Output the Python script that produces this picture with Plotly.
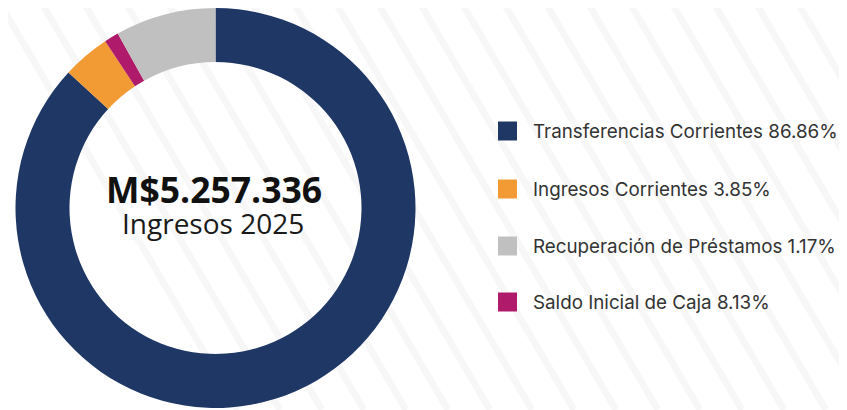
import plotly.graph_objects as go

# Data
categories = ["Transferencias Corrientes", "Ingresos Corrientes",
              "Recuperación de Préstamos", "Saldo Inicial de Caja"]
percentages = [86.86, 3.85, 1.17, 8.13]
legend_colors = ["#1e3765", "#f29b34", "#c0c0c0", "#b01a6b"]
# colours as painted on the ring in the reference
slice_colors = ["#1e3765", "#f29b34", "#b01a6b", "#c0c0c0"]
total_label = "M$5.257.336"
sub_label = "Ingresos 2025"

# the page body has an 8px margin, so figure coords = page coords - 8
OFF = 8
W, H = 839, 402
cx, cy, R = 215.5 - OFF, 208 - OFF, 200


def px(x):
    return (x - OFF) / W


def py(y):
    return 1 - (y - OFF) / H


fig = go.Figure()
fig.add_trace(go.Pie(
    labels=categories, values=percentages,
    marker=dict(colors=slice_colors, line=dict(width=0)),
    hole=0.73, sort=False, direction="clockwise", rotation=0,
    textinfo="none", hoverinfo="label+percent", showlegend=False,
    domain=dict(x=[(cx - R) / W, (cx + R) / W],
                y=[max(0, (H - cy - R) / H), min(1, (H - cy + R) / H)]),
))

annotations = [
    dict(text=f"<b>{total_label}</b>", x=px(214), y=py(189), xref="paper", yref="paper",
         showarrow=False, font=dict(family="Open Sans", size=35.5, color="#111111"),
         xanchor="center", yanchor="middle"),
    dict(text=sub_label, x=px(212.5), y=py(222.5), xref="paper", yref="paper",
         showarrow=False, font=dict(family="Open Sans", size=28, color="#1a1a1a"),
         xanchor="center", yanchor="middle"),
]
shapes = []
# faint diagonal background stripes
for k in range(-6, 18):
    x0 = 250 + k * 42
    shapes.append(dict(type="line", xref="paper", yref="paper", layer="below",
                       x0=px(x0), y0=py(0), x1=px(x0 + 240), y1=py(410),
                       line=dict(color="rgba(0,0,0,0.03)", width=7)))

row_y = [131, 189, 246, 302]
for name, pct, col, yy in zip(categories, percentages, legend_colors, row_y):
    shapes.append(dict(type="rect", xref="paper", yref="paper",
                       x0=px(498), x1=px(517), y0=py(yy + 9.5), y1=py(yy - 9.5),
                       fillcolor=col, line=dict(width=0)))
    annotations.append(dict(text=f"{name} {pct:.2f}%", x=px(531), y=py(yy),
                            xref="paper", yref="paper", showarrow=False,
                            xanchor="left", yanchor="middle",
                            font=dict(family="Inter", size=18.8, color="#333333")))

fig.update_layout(
    width=W, height=H, margin=dict(l=0, r=0, t=0, b=0),
    paper_bgcolor="white", plot_bgcolor="white",
    annotations=annotations, shapes=shapes,
)
fig.write_html("out.html")
